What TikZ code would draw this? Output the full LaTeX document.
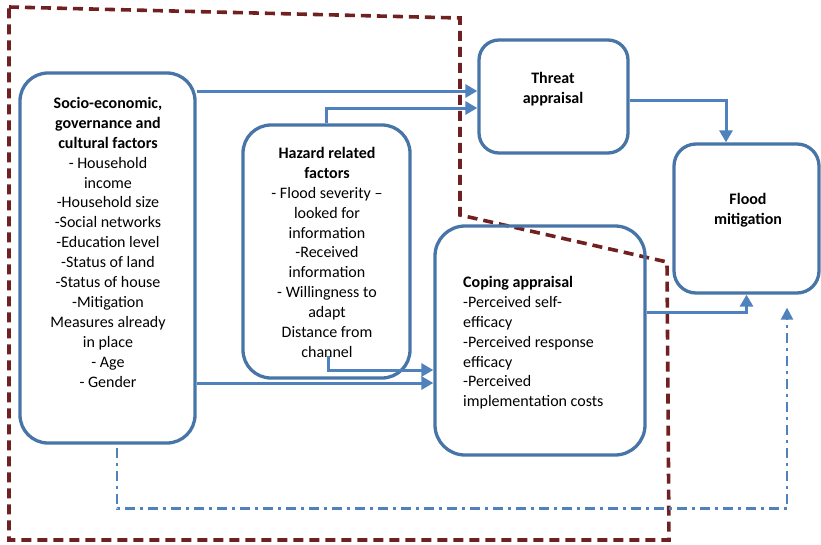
\documentclass[tikz,border=0pt]{standalone}
\usepackage{fontspec}
\setmainfont{Carlito}
\usetikzlibrary{arrows.meta}

\definecolor{bleu}{RGB}{72,117,168}
\definecolor{bleuclair}{RGB}{79,129,189}
\definecolor{bordeaux}{RGB}{112,32,32}

\tikzstyle{boite}=[draw=bleu, rectangle, line width=3.3pt]
\tikzstyle{texte}=[inner sep=0pt, font=\fontsize{16pt}{19.9pt}\selectfont]
\tikzstyle{fleche}=[draw=bleuclair, line width=3pt, -{Triangle[length=12pt, width=13pt]}]
\tikzstyle{pointille}=[draw=bleuclair, line width=2.4pt, dash pattern=on 10pt off 5pt on 3pt off 5pt, -{Triangle[length=12pt, width=12pt]}]
\tikzstyle{frontiere}=[draw=bordeaux, line width=3.6pt, dash pattern=on 10pt off 6pt]

\begin{document}
\begin{tikzpicture}[x=1pt, y=-1pt]
    \useasboundingbox (0,0) rectangle (821,544);

    % zone en pointilles
    \draw[frontiere] (9,7) -- (460,18) -- (460,215) -- (667,262) -- (669,540) -- (9,540) -- cycle;

    % boites
    \node[boite, rounded corners=28pt, minimum width=175pt, minimum height=370pt] (socio) at (107.5,258) {};
    \node[boite, rounded corners=28pt, minimum width=167pt, minimum height=253pt] (hazard) at (326.5,251.5) {};
    \node[boite, rounded corners=20pt, minimum width=149pt, minimum height=113pt] (threat) at (553.5,96.5) {};
    \node[boite, rounded corners=22pt, minimum width=145pt, minimum height=149pt] (flood) at (746.5,218.5) {};
    \node[boite, rounded corners=30pt, minimum width=210pt, minimum height=229pt] (coping) at (540,340.5) {};

    % textes
    \node[texte, align=center, anchor=north] (sociotexte) at (108,97) {
        \textbf{Socio-economic,}\\ \textbf{governance and}\\ \textbf{cultural factors}\\
        - Household\\ income\\ -Household size\\ -Social networks\\ -Education level\\
        -Status of land\\ -Status of house\\ -Mitigation\\ Measures already\\ in place\\
        - Age\\ - Gender};
    \node[texte, align=center, anchor=north] (hazardtexte) at (327,147) {
        \textbf{Hazard related}\\ \textbf{factors}\\ - Flood severity --\\ looked for\\
        information\\ -Received\\ information\\ - Willingness to\\ adapt\\
        Distance from\\ channel};
    \node[texte, align=center, anchor=north] (threattexte) at (553,72) {
        \textbf{Threat}\\ \textbf{appraisal}};
    \node[texte, align=center, anchor=north] (floodtexte) at (748,193) {
        \textbf{Flood}\\ \textbf{mitigation}};
    \node[texte, align=left, anchor=north west] (copingtexte) at (463,276) {
        \textbf{Coping appraisal}\\ -Perceived self-\\ efficacy\\ -Perceived response\\
        efficacy\\ -Perceived\\ implementation costs};

    % points d'entree des fleches
    \coordinate (threathaut) at ([yshift=5.5pt]threat.west);
    \coordinate (threatbas) at ([yshift=-11.5pt]threat.west);
    \coordinate (copinghaut) at ([yshift=-29.5pt]coping.west);
    \coordinate (copingbas) at ([yshift=-42.5pt]coping.west);

    % fleches
    \draw[fleche] (socio.east |- threathaut) -- (threathaut);
    \draw[fleche] (hazard.north) |- (threatbas);
    \draw[fleche] (socio.east |- copingbas) -- (copingbas);
    \draw[fleche] ([xshift=2pt, yshift=24pt]hazard.south) |- (copinghaut);
    \draw[fleche] ([yshift=-3.5pt]threat.east) -| ([xshift=-20.5pt]flood.north);
    \draw[fleche] ([yshift=28.5pt]coping.east) -| (flood.south);
    \draw[pointille] ([xshift=9.5pt, yshift=-3pt]socio.south) -- ++(0,61) -| ([xshift=40.5pt, yshift=-13pt]flood.south);

\end{tikzpicture}
\end{document}
